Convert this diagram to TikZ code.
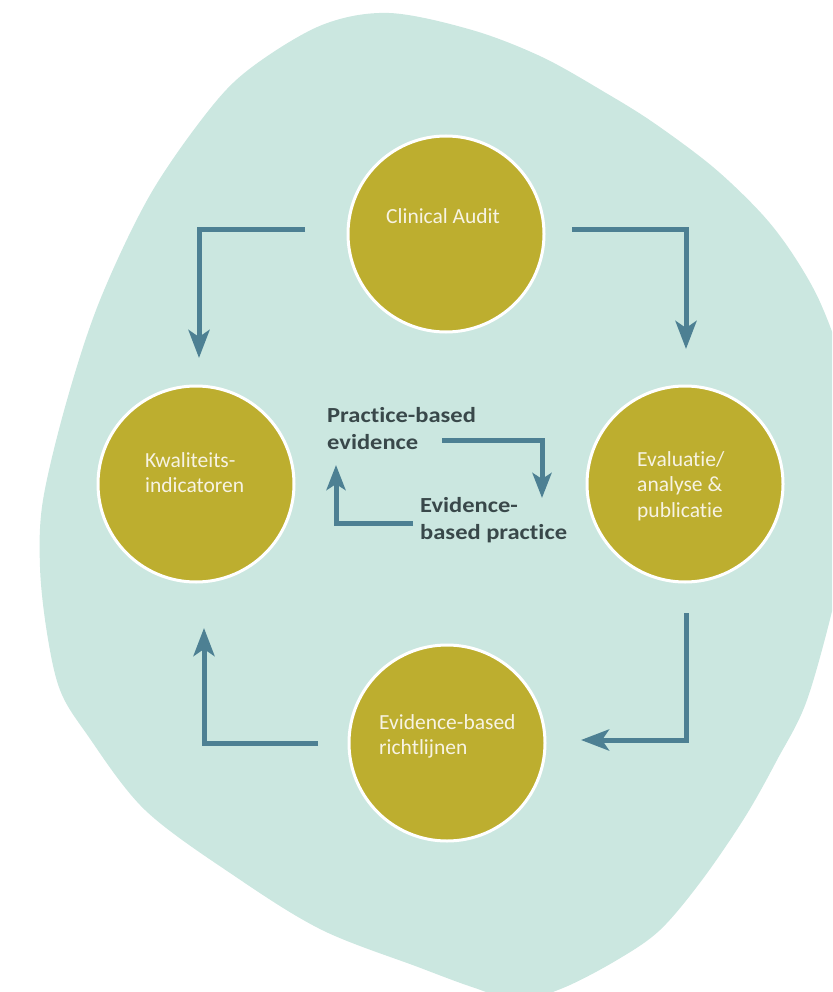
\documentclass[tikz,border=0pt]{standalone}
\usepackage{fontspec}
\setmainfont{Carlito}[Ligatures={NoCommon,NoRequired}]
\newfontfamily\widefont{Carlito}[FakeStretch=1.14, Ligatures={NoCommon,NoRequired}]
\usetikzlibrary{arrows.meta}
\definecolor{blobc}{HTML}{CBE7E0}
\definecolor{olivec}{HTML}{BDAE2F}
\definecolor{arrowc}{HTML}{4D8093}
\definecolor{darktext}{HTML}{39484A}
\definecolor{circtext}{HTML}{F7F3E3}
\newcommand{\lines}[1]{\begin{tabular}[t]{@{}l@{}}#1\end{tabular}}
\begin{document}
\begin{tikzpicture}[x=1pt,y=-1pt,
  circ/.style={circle, fill=olivec, draw=white, line width=3pt, minimum size=196pt, inner sep=0pt},
  ctext/.style={anchor=base west, inner sep=0pt, text=circtext, font=\fontsize{21.5}{25.5}\selectfont},
  mtext/.style={anchor=base west, inner sep=0pt, text=darktext, font=\widefont\bfseries\fontsize{21.5}{27.5}\selectfont},
  flow/.style={draw=arrowc, line width=5pt, line join=miter, line cap=butt,
    -{Stealth[length=28pt,width=21pt,inset=7pt]}},
  smallflow/.style={flow, -{Stealth[length=25pt,width=19pt,inset=6pt]}}]
\useasboundingbox (0,0) rectangle (832,992);
\begin{scope}
\clip (0,0) rectangle (832,992);
\fill[blobc] plot[smooth cycle, tension=0.55] coordinates {
 (389,13) (472,30) (542,57) (606,93) (654,123) (713,167) (761,213) (792,253)
 (820,302) (842,365) (852,445) (850,520) (836,595) (807,700) (777,760) (745,817)
 (702,880) (660,930) (617,960) (563,988) (518,1000) (472,987) (418,967)
 (322,930) (236,877) (145,810) (86,733) (60,690) (47,633) (40,567) (43,500)
 (67,400) (100,300) (150,195) (209,110) (252,67) (322,25)};
\end{scope}

% circles
\node[circ] (audit) at (446,234) {};
\node[circ] (kwal) at (196,484) {};
\node[circ] (eval) at (685,484) {};
\node[circ] (rich) at (447,743) {};

% circle texts
\node[ctext] (auditT) at (386,223) {\lines{Clinical Audit}};
\node[ctext] (kwalT) at (145,467) {\lines{Kwaliteits-\\indicatoren}};
\node[ctext] (evalT) at (637,466) {\lines{Evaluatie/\\analyse \&\\publicatie}};
\node[ctext] (richT) at (379,729) {\lines{Evidence-based\\richtlijnen}};

% center texts
\node[mtext] (pbe) at (327,422) {\lines{Practice-based\\evidence}};
\node[mtext] (ebp) at (420,512) {\lines{Evidence-\\based practice}};

% connector endpoints
\coordinate (a1s) at (305,230);
\coordinate (a1e) at (199,358);
\coordinate (a2s) at (572,230);
\coordinate (a2e) at (686,349);
\coordinate (a3s) at (686,613);
\coordinate (a3e) at (581,740);
\coordinate (a4s) at (318,743);
\coordinate (a4e) at (204,628);
\coordinate (c1s) at (442,440);
\coordinate (c1e) at (542,498);
\coordinate (c2s) at (413,523);
\coordinate (c2e) at (336,465);

\draw[flow] (a1s) -| (a1e);
\draw[flow] (a2s) -| (a2e);
\draw[flow] (a3s) |- (a3e);
\draw[flow] (a4s) -| (a4e);
\draw[smallflow] (c1s) -| (c1e);
\draw[smallflow] (c2s) -| (c2e);
\end{tikzpicture}
\end{document}
